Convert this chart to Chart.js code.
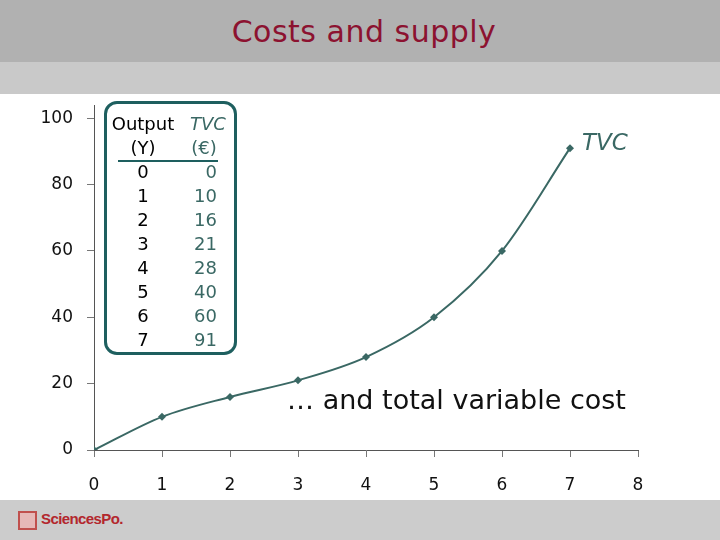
<!DOCTYPE html>
<html>
<head>
<meta charset="utf-8">
<script src="https://cdn.jsdelivr.net/npm/chart.js@4.4.1/dist/chart.umd.min.js"></script>
<style>
  body { margin: 0; width: 720px; height: 540px; position: relative; overflow: hidden; background: #fff; font-family: "DejaVu Sans", sans-serif; }
  #banner { position: absolute; left: 0; top: 0; width: 720px; height: 62px; background: #b1b1b1; }
  #banner h1 { margin: 0; font-weight: normal; font-size: 30px; color: #8c1230; text-align: center; line-height: 64px; padding-left: 8px; letter-spacing: 0.5px; }
  #band { position: absolute; left: 0; top: 62px; width: 720px; height: 32px; background: #c9c9c9; }
  #footer { position: absolute; left: 0; top: 500px; width: 720px; height: 40px; background: #cccccc; }
  #logoBox { position: absolute; left: 18px; top: 11px; width: 15px; height: 15px; border: 2px solid #c0504d; background: #e6b8b7; }
  #logoText { position: absolute; left: 41px; top: 10px; font-family: "Liberation Sans", sans-serif; font-weight: bold; font-size: 15px; color: #b3272d; letter-spacing: -0.6px; }
  #chartWrap { position: absolute; left: 0; top: 94px; width: 720px; height: 406px; }
  #tbl { position: absolute; left: 104px; top: 101px; width: 127px; height: 248px; border: 3px solid #1e5f5f; border-radius: 13px; background: #fff; font-size: 18px; }
  #tbl span { position: absolute; line-height: 24px; white-space: nowrap; }
  #tbl .rule { position: absolute; left: 11px; top: 56px; width: 100px; height: 2px; background: #1e5f5f; }
</style>
</head>
<body>
<div id="banner"><h1>Costs and supply</h1></div>
<div id="band"></div>
<div id="chartWrap"><canvas id="myChart" width="720" height="406"></canvas></div>
<div id="tbl"></div>
<div id="footer"><div id="logoBox"></div><div id="logoText">SciencesPo.</div></div>
<script>
// data
const outputY = [0, 1, 2, 3, 4, 5, 6, 7];
const tvc = [0, 10, 16, 21, 28, 40, 60, 91];
const xTicks = [0, 1, 2, 3, 4, 5, 6, 7, 8];
const yTicks = [0, 20, 40, 60, 80, 100];

const teal = '#3a6864';

// little table in the corner, built from the same arrays
const tbl = document.getElementById('tbl');
function cell(text, x, y, align, style) {
    const s = document.createElement('span');
    s.textContent = text;
    s.style.top = y + 'px';
    if (align === 'center') { s.style.left = (x - 50) + 'px'; s.style.width = '100px'; s.style.textAlign = 'center'; }
    else { s.style.right = (127 - x) + 'px'; s.style.textAlign = 'right'; }
    Object.assign(s.style, style || {});
    tbl.appendChild(s);
}
cell('Output', 36, 8, 'center', { color: '#000' });
cell('TVC', 101, 8, 'center', { color: teal, fontStyle: 'italic' });
cell('(Y)', 36, 32, 'center', { color: '#000' });
cell('(€)', 97, 32, 'center', { color: teal });
const rule = document.createElement('div');
rule.className = 'rule';
tbl.appendChild(rule);
outputY.forEach(function (y, i) {
    cell(String(y), 36, 56 + i * 24, 'center', { color: '#000' });
    cell(String(tvc[i]), 110, 56 + i * 24, 'right', { color: teal });
});

// text notes on the plot
const notes = {
    id: 'notes',
    afterDatasetsDraw: function (chart) {
        const c = chart.ctx;
        const xs = chart.scales.x, ys = chart.scales.y;
        const last = outputY.length - 1;
        c.save();
        c.fillStyle = teal;
        c.font = 'italic 23px "DejaVu Sans"';
        c.textBaseline = 'middle';
        c.fillText('TVC', xs.getPixelForValue(outputY[last]) + 12, ys.getPixelForValue(tvc[last]) - 4);
        c.fillStyle = '#111';
        c.font = '27px "DejaVu Sans"';
        c.fillText('… and total variable cost', xs.getPixelForValue(2.84), ys.getPixelForValue(14.5));
        c.restore();
    }
};

const ctx = document.getElementById('myChart').getContext('2d');
const myChart = new Chart(ctx, {
    type: 'line',
    data: {
        datasets: [{
            label: 'TVC',
            data: outputY.map(function (x, i) { return { x: x, y: tvc[i] }; }),
            borderColor: teal,
            backgroundColor: teal,
            borderWidth: 2,
            cubicInterpolationMode: 'monotone',
            pointStyle: 'rectRot',
            pointRadius: 4,
            pointBorderWidth: 0,
            fill: false
        }]
    },
    options: {
        responsive: false,
        devicePixelRatio: 1,
        animation: false,
        layout: { padding: { top: 11, right: 82, left: 0, bottom: 0 } },
        plugins: { legend: { display: false }, tooltip: { enabled: false } },
        scales: {
            x: {
                type: 'linear',
                min: 0,
                max: 8,
                afterBuildTicks: function (s) { s.ticks = xTicks.map(function (v) { return { value: v }; }); },
                afterFit: function (s) { s.height = 50; s.paddingLeft = 0; s.paddingRight = 0; },
                border: { color: '#555', width: 1 },
                grid: { drawOnChartArea: false, drawTicks: true, tickLength: 7, color: '#777' },
                ticks: { padding: 18, color: '#111', font: { family: 'DejaVu Sans', size: 17 }, maxRotation: 0 }
            },
            y: {
                min: 0,
                max: 104,
                afterBuildTicks: function (s) { s.ticks = yTicks.map(function (v) { return { value: v }; }); },
                afterFit: function (s) { s.width = 94; s.paddingTop = 0; s.paddingBottom = 0; },
                border: { color: '#555', width: 1 },
                grid: { drawOnChartArea: false, drawTicks: true, tickLength: 7, color: '#777' },
                ticks: { padding: 14, color: '#111', font: { family: 'DejaVu Sans', size: 17 } }
            }
        }
    },
    plugins: [notes]
});
</script>
</body>
</html>
